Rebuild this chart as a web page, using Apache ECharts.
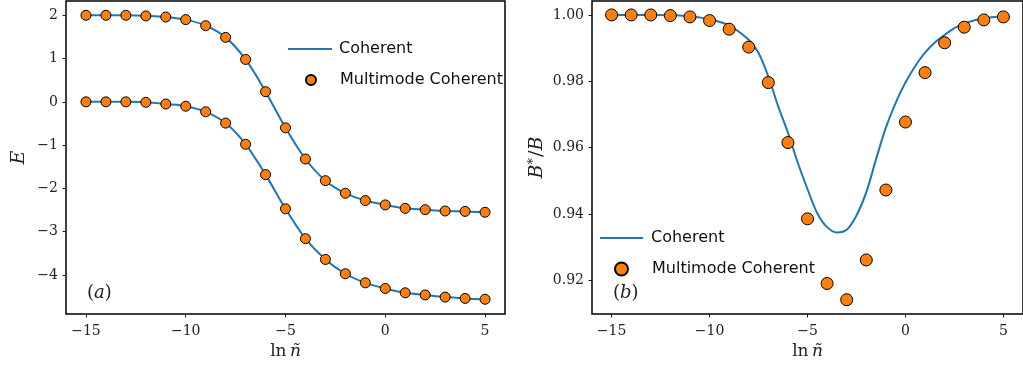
<!DOCTYPE html>
<html>
<head>
<meta charset="utf-8">
<script src="https://cdn.jsdelivr.net/npm/echarts@6/dist/echarts.min.js"></script>
<style>
html,body{margin:0;padding:0;background:#fff;}
#c{width:1023px;height:366px;}
</style>
</head>
<body>
<div id="c"></div>
<script>
// ---- data ----
const lnN = [-15,-14,-13,-12,-11,-10,-9,-8,-7,-6,-5,-4,-3,-2,-1,0,1,2,3,4,5];
// panel (a): energies
const upperE = [2.00,2.00,2.00,1.985,1.96,1.90,1.76,1.49,0.98,0.235,-0.60,-1.32,-1.82,-2.11,-2.28,-2.38,-2.46,-2.49,-2.52,-2.53,-2.55];
const lowerE = [0.00,0.00,0.00,-0.01,-0.05,-0.10,-0.23,-0.49,-0.98,-1.68,-2.47,-3.16,-3.64,-3.97,-4.18,-4.31,-4.41,-4.46,-4.51,-4.54,-4.56];
// panel (a) coherent curves (coincide with points)
const coherentUpperE = upperE;
const coherentLowerE = lowerE;
// panel (b): B*/B multimode points
const multimodeB = [1.000,1.000,1.000,0.9998,0.9994,0.9983,0.9957,0.9903,0.9796,0.9615,0.9385,0.9190,0.9141,0.9261,0.9472,0.9677,0.9826,0.9916,0.9963,0.9985,0.9994];
// panel (b): coherent curve read along x
const coherentBX = [-15,-14,-13,-12,-11,-10,-9,-8,-7.5,-7,-6.5,-6,-5.5,-5,-4.5,-4,-3.5,-3,-2.5,-2,-1.5,-1,-0.5,0,0.5,1,1.5,2,2.5,3,4,5];
const coherentBY = [1.000,1.000,1.000,0.9999,0.9996,0.9987,0.9968,0.9925,0.9885,0.9814,0.9725,0.9645,0.9555,0.9475,0.9402,0.9360,0.9344,0.9352,0.9395,0.9465,0.9565,0.9660,0.9735,0.9796,0.9846,0.9886,0.9917,0.9940,0.9960,0.9975,0.9990,0.9996];
// ticks
const xTicks = [-15,-10,-5,0,5];
const yTicksA = [-4,-3,-2,-1,0,1,2];
const yTicksB = [0.92,0.94,0.96,0.98,1.00];

const BLUE = '#1f77b4', ORANGE = '#ff7f0e';
const serif = 'DejaVu Serif';
const sans = 'DejaVu Sans';
const minus = v => String(v).replace('-', '\u2212');

const tickStyle = {show:true, inside:false, length:3.5, lineStyle:{color:'#000', width:0.9}};
const labelStyle = {color:'#222', fontFamily:serif, fontSize:14};

function xAxisFor(gi){
  return {
    type:'value', gridIndex:gi, min:-16, max:6,
    axisLine:{show:false, onZero:false},
    splitLine:{show:false},
    axisTick:Object.assign({customValues:xTicks}, tickStyle),
    axisLabel:Object.assign({customValues:xTicks, margin:10, formatter:minus}, labelStyle),
    name:'{r|ln\u2009}{i|\u00f1}', nameLocation:'middle', nameGap:26,
    nameTextStyle:{rich:{r:{fontFamily:serif,fontSize:17,color:'#222'}, i:{fontFamily:serif,fontStyle:'italic',fontSize:17,color:'#222'}}}
  };
}

const chart = echarts.init(document.getElementById('c'), null, {renderer:'canvas'});
const sym = (xArr, yArr) => xArr.map((x,i)=>[x, yArr[i]]);
const legText = pad => ({fontFamily:sans, fontSize:16, color:'#111', lineHeight:16, padding:[0,0,0,pad]});

const option = {
  animation:false,
  backgroundColor:'#fff',
  grid:[
    {left:66, top:1, width:439, height:313, show:true, borderColor:'#000', borderWidth:1.5},
    {left:592, top:1, width:440, height:313, show:true, borderColor:'#000', borderWidth:1.5}
  ],
  xAxis:[xAxisFor(0), xAxisFor(1)],
  yAxis:[
    {type:'value', gridIndex:0, min:-4.9, max:2.33,
     axisLine:{show:false, onZero:false}, splitLine:{show:false},
     axisTick:Object.assign({customValues:yTicksA}, tickStyle),
     axisLabel:Object.assign({customValues:yTicksA, margin:8, formatter:minus}, labelStyle),
     name:'E', nameLocation:'middle', nameGap:37,
     nameTextStyle:{fontFamily:serif, fontStyle:'italic', fontSize:19, color:'#222'}},
    {type:'value', gridIndex:1, min:0.9098, max:1.0042,
     axisLine:{show:false, onZero:false}, splitLine:{show:false},
     axisTick:Object.assign({customValues:yTicksB}, tickStyle),
     axisLabel:Object.assign({customValues:yTicksB, margin:8, formatter:v=>v.toFixed(2)}, labelStyle),
     name:'{i|B}{s|*}{p|/}{i|B}', nameLocation:'middle', nameGap:44,
     nameTextStyle:{rich:{
       i:{fontFamily:serif, fontStyle:'italic', fontSize:19, color:'#222'},
       s:{fontFamily:serif, fontSize:13, color:'#222', verticalAlign:'top', padding:[0,1,8,0]},
       p:{fontFamily:serif, fontSize:19, color:'#222'}}}}
  ],
  legend:[
    {left:288, top:41, padding:0, data:[{name:'Coherent', icon:'rect', itemStyle:{color:BLUE}}], itemWidth:44, itemHeight:2, textStyle:legText(2), selectedMode:false},
    {left:305, top:72, padding:0, data:[{name:'Multimode Coherent', icon:'circle'}], itemWidth:10, itemHeight:10, textStyle:legText(19), selectedMode:false},
    {left:600, top:230, padding:0, data:[{name:'Coherent', icon:'rect', itemStyle:{color:BLUE}}], itemWidth:43, itemHeight:2, textStyle:legText(3), selectedMode:false},
    {left:614, top:261, padding:0, data:[{name:'Multimode Coherent', icon:'circle'}], itemWidth:13, itemHeight:13, textStyle:legText(19), selectedMode:false}
  ],
  graphic:[
    {type:'text', left:87, top:284, style:{text:'({i|a})', font:'18px "DejaVu Serif"', fill:'#222',
      rich:{i:{fontFamily:serif, fontStyle:'italic', fontSize:18, fill:'#222'}}}},
    {type:'text', left:613, top:284, style:{text:'({i|b})', font:'18px "DejaVu Serif"', fill:'#222',
      rich:{i:{fontFamily:serif, fontStyle:'italic', fontSize:18, fill:'#222'}}}}
  ],
  series:[
    {name:'Coherent', type:'line', xAxisIndex:0, yAxisIndex:0, data:sym(lnN, coherentUpperE), smooth:0.35, symbol:'none', lineStyle:{color:BLUE, width:2}, itemStyle:{color:BLUE}, z:2},
    {name:'Coherent', type:'line', xAxisIndex:0, yAxisIndex:0, data:sym(lnN, coherentLowerE), smooth:0.35, symbol:'none', lineStyle:{color:BLUE, width:2}, itemStyle:{color:BLUE}, z:2},
    {name:'Multimode Coherent', type:'scatter', xAxisIndex:0, yAxisIndex:0, data:sym(lnN, upperE), symbol:'circle', symbolSize:10, itemStyle:{color:ORANGE, borderColor:'#000', borderWidth:1, opacity:1}, z:3},
    {name:'Multimode Coherent', type:'scatter', xAxisIndex:0, yAxisIndex:0, data:sym(lnN, lowerE), symbol:'circle', symbolSize:10, itemStyle:{color:ORANGE, borderColor:'#000', borderWidth:1, opacity:1}, z:3},
    {name:'Coherent', type:'line', xAxisIndex:1, yAxisIndex:1, data:sym(coherentBX, coherentBY), smooth:0.35, symbol:'none', lineStyle:{color:BLUE, width:2}, itemStyle:{color:BLUE}, z:2},
    {name:'Multimode Coherent', type:'scatter', xAxisIndex:1, yAxisIndex:1, data:sym(lnN, multimodeB), symbol:'circle', symbolSize:12, itemStyle:{color:ORANGE, borderColor:'#000', borderWidth:1, opacity:1}, z:3}
  ]
};
chart.setOption(option);
</script>
</body>
</html>
